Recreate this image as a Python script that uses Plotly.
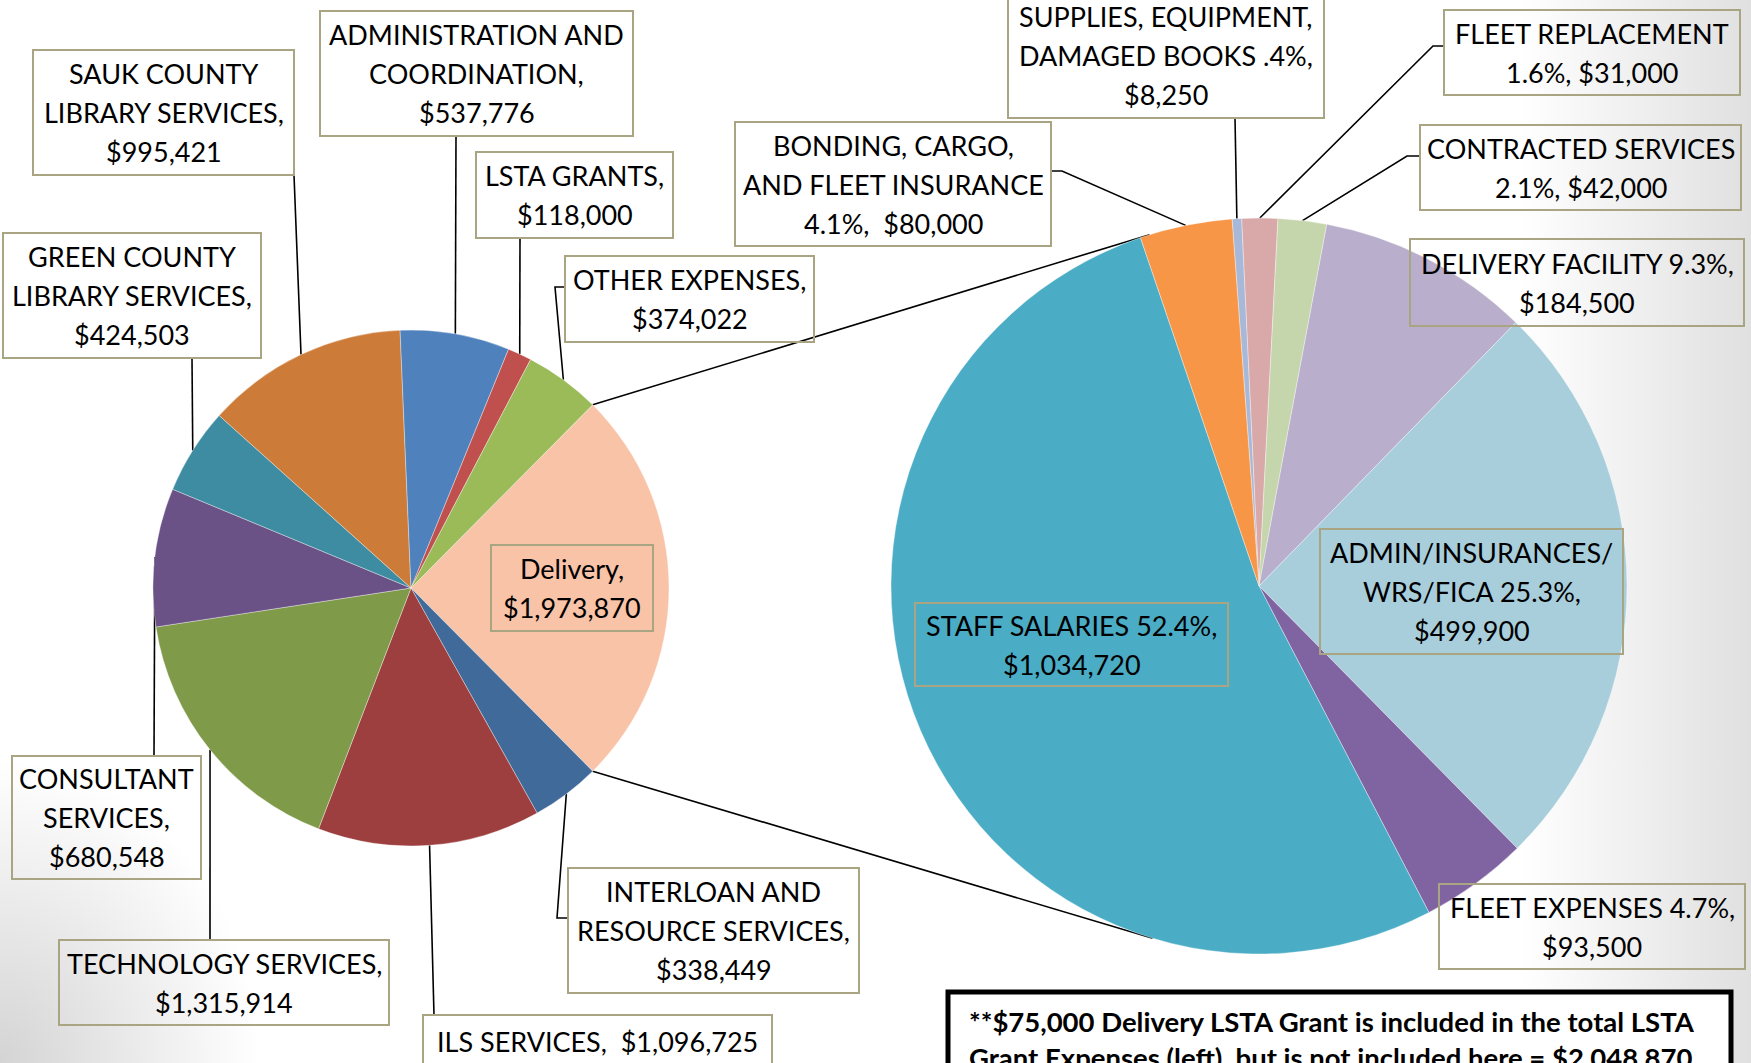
import math, base64
import plotly.graph_objects as go

W, H = 1751, 1063

# ---------------- data ----------------
left_labels = ["Delivery", "INTERLOAN AND RESOURCE SERVICES", "ILS SERVICES", "TECHNOLOGY SERVICES",
               "CONSULTANT SERVICES", "GREEN COUNTY LIBRARY SERVICES", "SAUK COUNTY LIBRARY SERVICES",
               "ADMINISTRATION AND COORDINATION", "LSTA GRANTS", "OTHER EXPENSES"]
left_values = [1973870, 338449, 1096725, 1315914, 680548, 424503, 995421, 537776, 118000, 374022]
left_colors = ["#F9C3A8", "#406A9A", "#9D3F3E", "#7F9A48", "#6A5186", "#3D8CA2", "#CD7B38",
               "#4F81BD", "#C0504D", "#9BBB59"]

right_labels = ["SUPPLIES, EQUIPMENT, DAMAGED BOOKS", "FLEET REPLACEMENT", "CONTRACTED SERVICES",
                "DELIVERY FACILITY", "ADMIN/INSURANCES/WRS/FICA", "FLEET EXPENSES", "STAFF SALARIES",
                "BONDING, CARGO, AND FLEET INSURANCE"]
right_values = [8250, 31000, 42000, 184500, 499900, 93500, 1034720, 80000]
right_pcts = [".4%", "1.6%", "2.1%", "9.3%", "25.3%", "4.7%", "52.4%", "4.1%"]
right_colors = ["#A8B8D8", "#D9A9A9", "#C6D6AC", "#B9AECB", "#A8CEDC", "#8064A2", "#4BACC6", "#F79646"]

note_text = ("<b>**$75,000 Delivery LSTA Grant is included in the total LSTA<br>"
             "Grant Expenses (left), but is not included here = $2,048,870</b>")

# ---------------- layout geometry (pixels) ----------------
LCX, LCY, LR = 411, 588, 258
RCX, RCY, RR = 1259, 586, 368
left_rot = 90 - 180 * left_values[0] / sum(left_values)
right_rot = -4.2


def dom(cx, cy, r):
    return dict(x=[(cx - r) / W, (cx + r) / W], y=[1 - (cy + r) / H, 1 - (cy - r) / H])


def edge(values, idx, rot, cx, cy, r, frac=0.5):
    tot = sum(values)
    cum = sum(values[:idx]) + values[idx] * frac
    a = math.radians(rot + 360 * cum / tot)
    return (cx + r * math.sin(a), cy - r * math.cos(a))


def ang_pt(a, cx, cy, r):
    a = math.radians(a)
    return (cx + r * math.sin(a), cy - r * math.cos(a))


fig = go.Figure()

fig.add_trace(go.Pie(values=left_values, labels=left_labels, sort=False, direction="clockwise",
                     rotation=left_rot, marker=dict(colors=left_colors, line=dict(color="rgba(255,255,255,0.6)", width=0.6)),
                     textinfo="none", hoverinfo="label+value", showlegend=False,
                     domain=dom(LCX, LCY, LR)))
fig.add_trace(go.Pie(values=right_values, labels=right_labels, sort=False, direction="clockwise",
                     rotation=right_rot, marker=dict(colors=right_colors, line=dict(color="rgba(255,255,255,0.6)", width=0.6)),
                     textinfo="none", hoverinfo="label+value", showlegend=False,
                     domain=dom(RCX, RCY, RR)))

# leader lines: box attachment points, then pie edge at slice middle
left_leaders = {
    1: [(568, 918), (557, 918)],
    2: [(434, 1015)],
    3: [(210, 940)],
    4: [(154, 756)],
    5: [(192, 358)],
    6: [(294, 175)],
    7: [(456, 136)],
    8: [(520, 238)],
    9: [(565, 287), (555, 287)],
}
right_leaders = {
    0: [(1235, 118)],
    1: [(1444, 46), (1433, 46)],
    2: [(1420, 156), (1407, 156)],
    7: [(1051, 171), (1062, 171)],
}
xs, ys = [], []
for idx, pts in left_leaders.items():
    e = edge(left_values, idx, left_rot, LCX, LCY, LR)
    for p in pts + [e]:
        xs.append(p[0]); ys.append(p[1])
    xs.append(None); ys.append(None)
for idx, pts in right_leaders.items():
    e = edge(right_values, idx, right_rot, RCX, RCY, RR)
    for p in pts + [e]:
        xs.append(p[0]); ys.append(p[1])
    xs.append(None); ys.append(None)
# connectors between pies
top_l = edge(left_values, 0, left_rot, LCX, LCY, LR, 0.0)
bot_l = edge(left_values, 0, left_rot, LCX, LCY, LR, 1.0)
top_r = ang_pt(342.7, RCX, RCY, RR)
bot_r = ang_pt(196.8, RCX, RCY, RR)
for a, b in [(top_l, top_r), (bot_l, bot_r)]:
    xs += [a[0], b[0], None]; ys += [a[1], b[1], None]

fig.add_trace(go.Scatter(x=xs, y=ys, mode="lines", line=dict(color="black", width=1.6),
                         hoverinfo="skip", showlegend=False))

# ---------------- labels ----------------
def money(v):
    return "${:,}".format(v)

FONT = "Lato, Open Sans, sans-serif"
BORDER = "#A9A583"
FS = 27
LINE = 39

left_texts = {
    0: ["Delivery,", money(left_values[0])],
    1: ["INTERLOAN AND", "RESOURCE SERVICES,", money(left_values[1])],
    2: ["ILS SERVICES,&nbsp; " + money(left_values[2])],
    3: ["TECHNOLOGY SERVICES,", money(left_values[3])],
    4: ["CONSULTANT", "SERVICES,", money(left_values[4])],
    5: ["GREEN COUNTY", "LIBRARY SERVICES,", money(left_values[5])],
    6: ["SAUK COUNTY", "LIBRARY SERVICES,", money(left_values[6])],
    7: ["ADMINISTRATION AND", "COORDINATION,", money(left_values[7])],
    8: ["LSTA GRANTS,", money(left_values[8])],
    9: ["OTHER EXPENSES,", money(left_values[9])],
}
left_boxes = {
    0: (491, 653, 545, 631),
    1: (568, 859, 868, 993),
    2: (423, 772, 1015, 1068),
    3: (59, 389, 940, 1025),
    4: (12, 201, 756, 879),
    5: (3, 261, 233, 358),
    6: (33, 294, 50, 175),
    7: (320, 633, 11, 136),
    8: (476, 673, 152, 238),
    9: (565, 814, 256, 342),
}
right_texts = {
    0: ["SUPPLIES, EQUIPMENT,", "DAMAGED BOOKS %s," % right_pcts[0], money(right_values[0])],
    1: ["FLEET REPLACEMENT", "%s, %s" % (right_pcts[1], money(right_values[1]))],
    2: ["CONTRACTED SERVICES", "%s, %s" % (right_pcts[2], money(right_values[2]))],
    3: ["DELIVERY FACILITY %s," % right_pcts[3], money(right_values[3])],
    4: ["ADMIN/INSURANCES/", "WRS/FICA %s," % right_pcts[4], money(right_values[4])],
    5: ["FLEET EXPENSES %s," % right_pcts[5], money(right_values[5])],
    6: ["STAFF SALARIES %s," % right_pcts[6], money(right_values[6])],
    7: ["BONDING, CARGO,", "AND FLEET INSURANCE", "%s,&nbsp; %s" % (right_pcts[7], money(right_values[7]))],
}
right_boxes = {
    0: (1008, 1324, -7, 118),
    1: (1444, 1740, 10, 95),
    2: (1420, 1741, 125, 210),
    3: (1410, 1744, 239, 326),
    4: (1320, 1623, 529, 654),
    5: (1439, 1745, 884, 969),
    6: (915, 1228, 603, 686),
    7: (735, 1051, 122, 246),
}

annotations = []
shapes = []
for texts, boxes in [(left_texts, left_boxes), (right_texts, right_boxes)]:
    for k, lines in texts.items():
        x0, x1, y0, y1 = boxes[k]
        shapes.append(dict(type="rect", xref="x", yref="y", x0=x0, x1=x1, y0=y0, y1=y1,
                           line=dict(color=BORDER, width=2), fillcolor="rgba(0,0,0,0)", layer="above"))
        cx, cy = (x0 + x1) / 2, (y0 + y1) / 2
        n = len(lines)
        for i, t in enumerate(lines):
            annotations.append(dict(
                x=cx, y=cy + (i - (n - 1) / 2) * LINE, xref="x", yref="y", showarrow=False,
                text=t, font=dict(family=FONT, size=FS, color="black"),
                xanchor="center", yanchor="middle"))

# note box
shapes.append(dict(type="rect", xref="x", yref="y", x0=948, x1=1731, y0=992, y1=1110,
                   line=dict(color="black", width=5), fillcolor="white", layer="above"))
annotations.append(dict(
    x=967, y=1003, xref="x", yref="y", showarrow=False, text=note_text,
    font=dict(family=FONT, size=27.5, color="black"), align="left",
    xanchor="left", yanchor="top"))

# background gradient (decoration)
svg = f'''<svg xmlns="http://www.w3.org/2000/svg" width="{W}" height="{H}" viewBox="0 0 {W} {H}">
<defs>
<linearGradient id="g1" x1="0" y1="0" x2="1" y2="0">
<stop offset="0" stop-color="#e0e0e0" stop-opacity="0"/>
<stop offset="1" stop-color="#e0e0e0" stop-opacity="1"/>
</linearGradient>
<radialGradient id="g2" cx="0" cy="1" r="1">
<stop offset="0" stop-color="#d4d4d4" stop-opacity="1"/>
<stop offset="1" stop-color="#d4d4d4" stop-opacity="0"/>
</radialGradient>
</defs>
<rect x="1520" y="0" width="231" height="{H}" fill="url(#g1)"/>
<rect x="0" y="760" width="260" height="303" fill="url(#g2)"/>
</svg>'''
src = "data:image/svg+xml;base64," + base64.b64encode(svg.encode()).decode()

fig.update_layout(
    width=W, height=H, margin=dict(l=0, r=0, t=0, b=0),
    paper_bgcolor="white", plot_bgcolor="rgba(0,0,0,0)",
    xaxis=dict(range=[0, W], visible=False, fixedrange=True, domain=[0, 1]),
    yaxis=dict(range=[H, 0], visible=False, fixedrange=True, domain=[0, 1]),
    annotations=annotations, shapes=shapes,
    images=[dict(source=src, xref="paper", yref="paper", x=0, y=1, sizex=1, sizey=1,
                 sizing="stretch", layer="below", xanchor="left", yanchor="top")],
    showlegend=False,
)

fig.write_html("out.html", config={"displayModeBar": False},
               post_script="document.body.style.margin='0px';document.body.style.overflow='hidden';")
